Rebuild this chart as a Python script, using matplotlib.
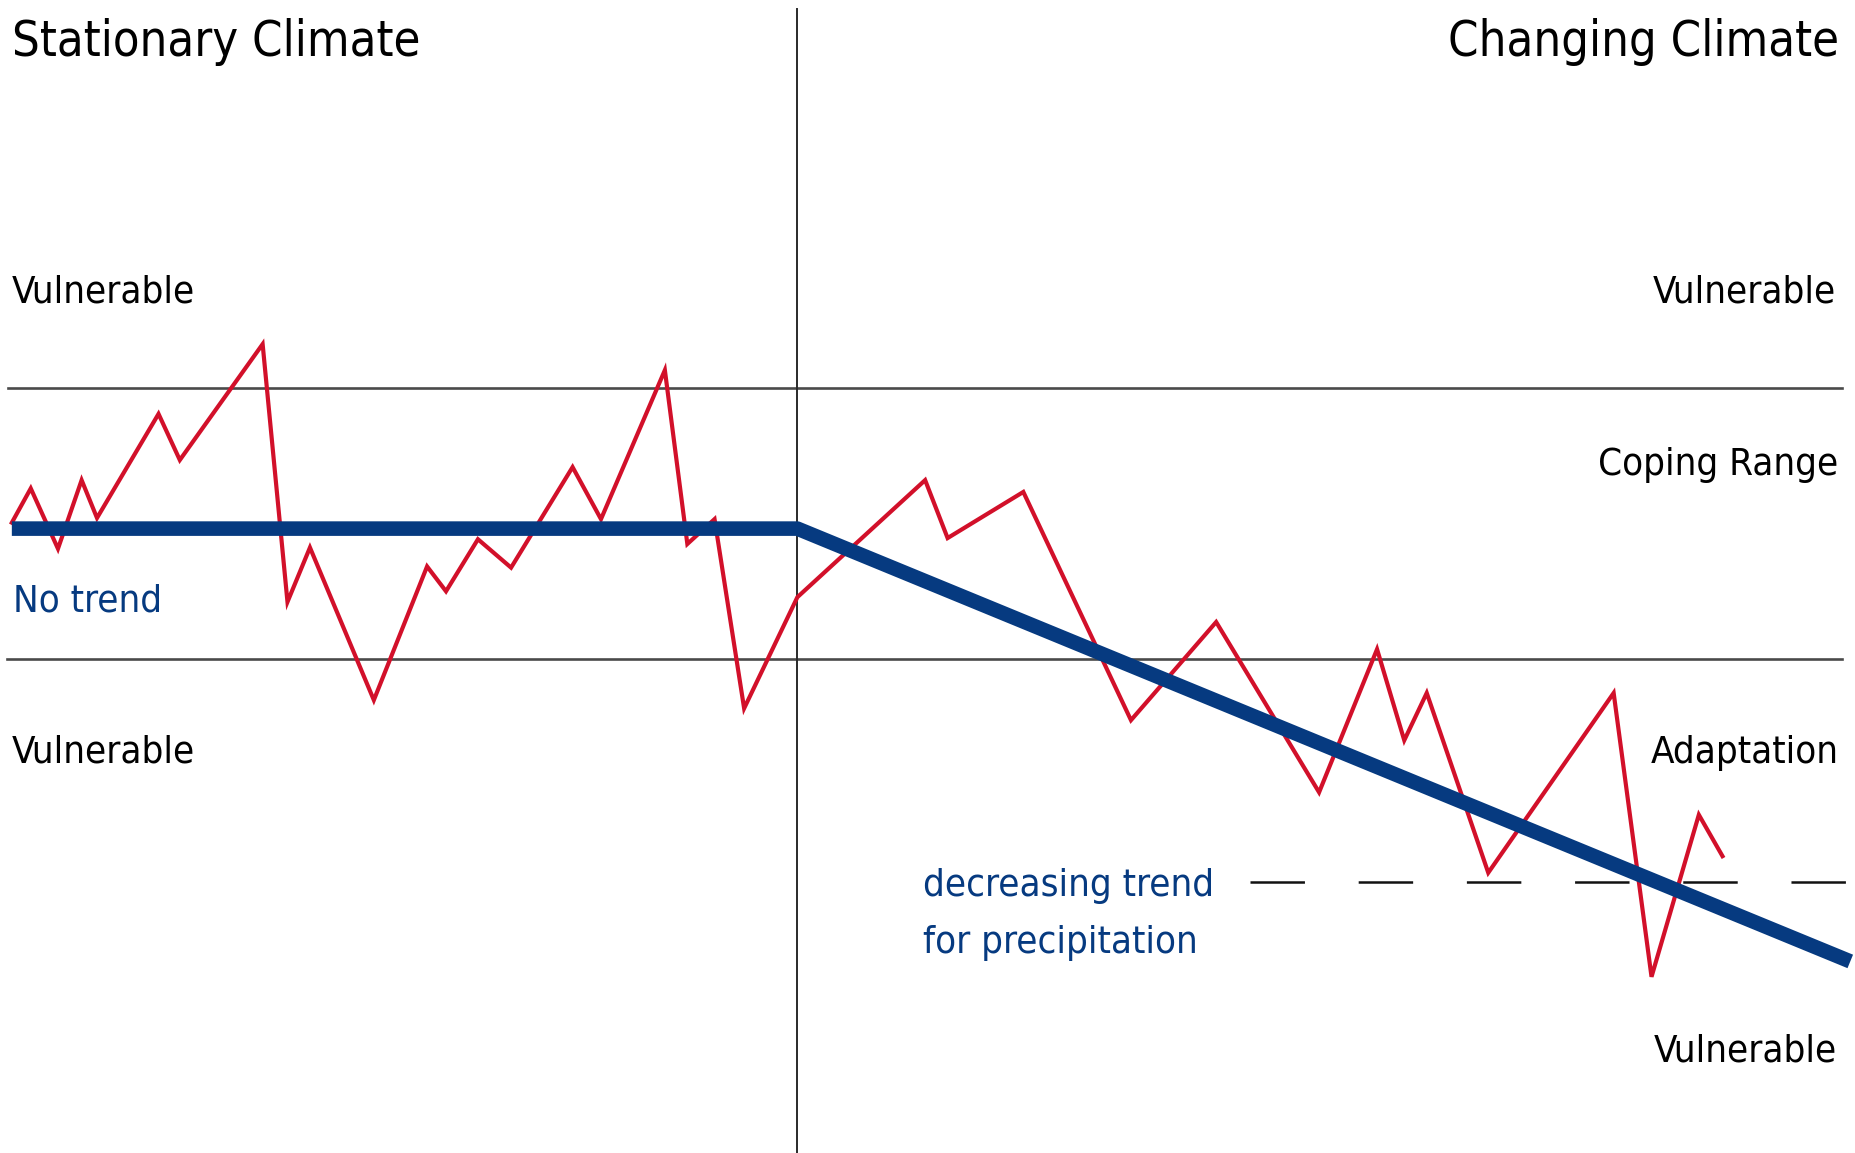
import matplotlib
matplotlib.use("Agg")
import matplotlib.pyplot as plt

plt.rcParams['font.family'] = ['DejaVu Sans']
plt.rcParams['font.stretch'] = 'condensed'
plt.rcParams['lines.scale_dashes'] = False

# observed precipitation (red), time vs value
t_obs = [1.0, 2.6, 4.9, 6.9, 8.2, 13.4, 15.2, 22.2, 24.3, 26.2, 31.6, 36.1, 37.7,
         40.4, 43.2, 48.4, 50.8, 56.2, 58.1, 60.4, 62.9, 67.4, 78.2, 80.1, 86.5,
         95.6, 102.8, 111.5, 116.4, 118.7, 120.6, 125.8, 136.4, 139.6, 143.6, 145.6]
p_obs = [53.3, 56.2, 51.1, 56.9, 53.7, 62.5, 58.6, 68.4, 46.6, 51.2, 38.3, 49.6, 47.5,
         51.9, 49.5, 58.0, 53.6, 66.2, 51.5, 53.6, 37.6, 47.0, 56.9, 52.0, 55.9,
         36.6, 44.9, 30.5, 42.6, 34.9, 38.9, 23.7, 38.9, 14.9, 28.6, 25.1]

# trend (blue)
t_trend = [1.0, 67.4, 156.4]
p_trend = [52.8, 52.8, 16.2]

# coping range limits and adaptation level
upper_limit = 64.7
lower_limit = 41.8
adapt_level = 22.9
t_split = 67.4

red = '#d2102a'
navy = '#063a80'

fig = plt.figure(figsize=(18.55, 11.53), dpi=100)
ax = fig.add_axes([0, 0, 1, 1])
ax.set_xlim(0, 156.8)
ax.set_ylim(0, 97.5)
ax.axis('off')

ax.plot([0.7, 155.7], [upper_limit, upper_limit], color='#4a4a4a', lw=1.9, zorder=1)
ax.plot([0.6, 155.7], [lower_limit, lower_limit], color='#4a4a4a', lw=1.9, zorder=1)
ax.plot([t_split, t_split], [0, 96.7], color='#2a2a2a', lw=1.4, zorder=1)
ax.plot([105.7, 156.0], [adapt_level, adapt_level], color='#111111', lw=1.8,
        dashes=(39.2, 38.7), dash_capstyle='butt', zorder=1)

ax.plot(t_obs, p_obs, color=red, lw=3.0, solid_joinstyle='miter', zorder=2)
ax.plot(t_trend, p_trend, color=navy, lw=10.5, solid_capstyle='butt', zorder=3)

fs_t = 35
fs = 27.5
ax.text(1.0, 92.8, 'Stationary Climate', fontsize=fs_t, va='baseline', ha='left')
ax.text(155.5, 92.8, 'Changing Climate', fontsize=fs_t, va='baseline', ha='right')
ax.text(1.0, 71.9, 'Vulnerable', fontsize=fs, va='baseline', ha='left')
ax.text(155.2, 71.9, 'Vulnerable', fontsize=fs, va='baseline', ha='right')
ax.text(155.4, 57.3, 'Coping Range', fontsize=fs, va='baseline', ha='right')
ax.text(1.1, 45.8, 'No trend', fontsize=fs, va='baseline', ha='left', color=navy)
ax.text(1.0, 33.0, 'Vulnerable', fontsize=fs, va='baseline', ha='left')
ax.text(155.4, 33.0, 'Adaptation', fontsize=fs, va='baseline', ha='right')
ax.text(78.0, 21.7, 'decreasing trend', fontsize=fs, va='baseline', ha='left', color=navy)
ax.text(78.0, 16.95, 'for precipitation', fontsize=fs, va='baseline', ha='left', color=navy)
ax.text(155.3, 7.7, 'Vulnerable', fontsize=fs, va='baseline', ha='right')

fig.savefig('out.png', dpi=100)
